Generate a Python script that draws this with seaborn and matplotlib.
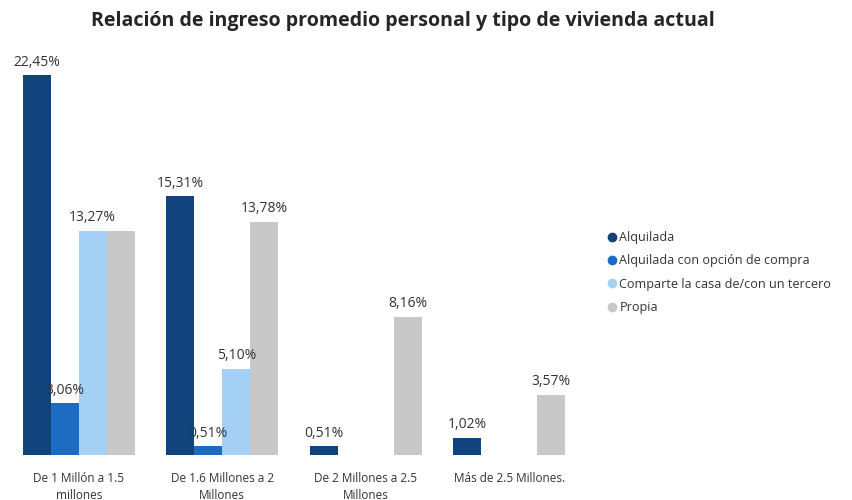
import matplotlib
matplotlib.use("Agg")
import matplotlib.pyplot as plt
from matplotlib.lines import Line2D
import seaborn as sns
import pandas as pd

# Income brackets (x categories) and housing types (hue)
categories = [
    "De 1 Millón a 1.5\nmillones",
    "De 1.6 Millones a 2\nMillones",
    "De 2 Millones a 2.5\nMillones",
    "Más de 2.5 Millones.",
]
housing = [
    "Alquilada",
    "Alquilada con opción de compra",
    "Comparte la casa de/con un tercero",
    "Propia",
]

# Percentages per housing type, one value per income bracket (None = no data)
alquilada = [22.45, 15.31, 0.51, 1.02]
alquilada_opcion = [3.06, 0.51, None, None]
comparte = [13.27, 5.10, None, None]
propia = [13.27, 13.78, 8.16, 3.57]

colors = ["#11437c", "#1b6cc2", "#a4d0f6", "#c8c8c8"]

rows = []
for name, vals in zip(housing, [alquilada, alquilada_opcion, comparte, propia]):
    for cat, v in zip(categories, vals):
        if v is not None:
            rows.append({"rango": cat, "vivienda": name, "pct": v})
df = pd.DataFrame(rows)

sns.set_style("white")
plt.rcParams["font.family"] = ["Open Sans", "DejaVu Sans"]

fig = plt.figure(figsize=(8.52, 5.0), dpi=100)
ax = fig.add_axes([7 / 852, 45 / 500, (581 - 7) / 852, 0.81])

sns.barplot(
    data=df, x="rango", y="pct", hue="vivienda",
    order=categories, hue_order=housing, palette=colors,
    width=0.78, gap=0, saturation=1, errorbar=None, ax=ax, legend=False,
    linewidth=0,
)

ax.set_ylim(0, 23.95)
ax.set_xlim(-0.5, len(categories) - 0.5)

for name, cont in zip(housing, ax.containers):
    labels = [f"{v:.2f}".replace(".", ",") + "%" for v in cont.datavalues]
    # the Propia label of the first bracket collides with its neighbour and is left out
    if name == "Propia":
        labels[0] = ""
    ax.bar_label(cont, labels=labels, padding=4, fontsize=10, color="#333333")

sns.despine(ax=ax, left=True, bottom=True)
ax.set_yticks([])
ax.set_xlabel("")
ax.set_ylabel("")
ax.tick_params(axis="x", length=0, pad=12, labelsize=8.5, labelcolor="#333333")
for t in ax.get_xticklabels():
    t.set_linespacing(1.4)

fig.text(403 / 852, 1 - 21 / 500,
         "Relación de ingreso promedio personal y tipo de vivienda actual",
         ha="center", va="center", fontsize=14.1, fontweight="bold", color="#252525")

handles = [Line2D([0], [0], marker="o", linestyle="", markersize=6,
                  markerfacecolor=c, markeredgecolor=c) for c in colors]
fig.legend(handles, housing, loc="upper left",
           bbox_to_anchor=(608 / 852, 1 - 231 / 500), frameon=False,
           fontsize=9.1, labelcolor="#333333", handlelength=0.7,
           handletextpad=0.2, labelspacing=0.82, borderpad=0, borderaxespad=0)

fig.savefig("out.png", dpi=100)
